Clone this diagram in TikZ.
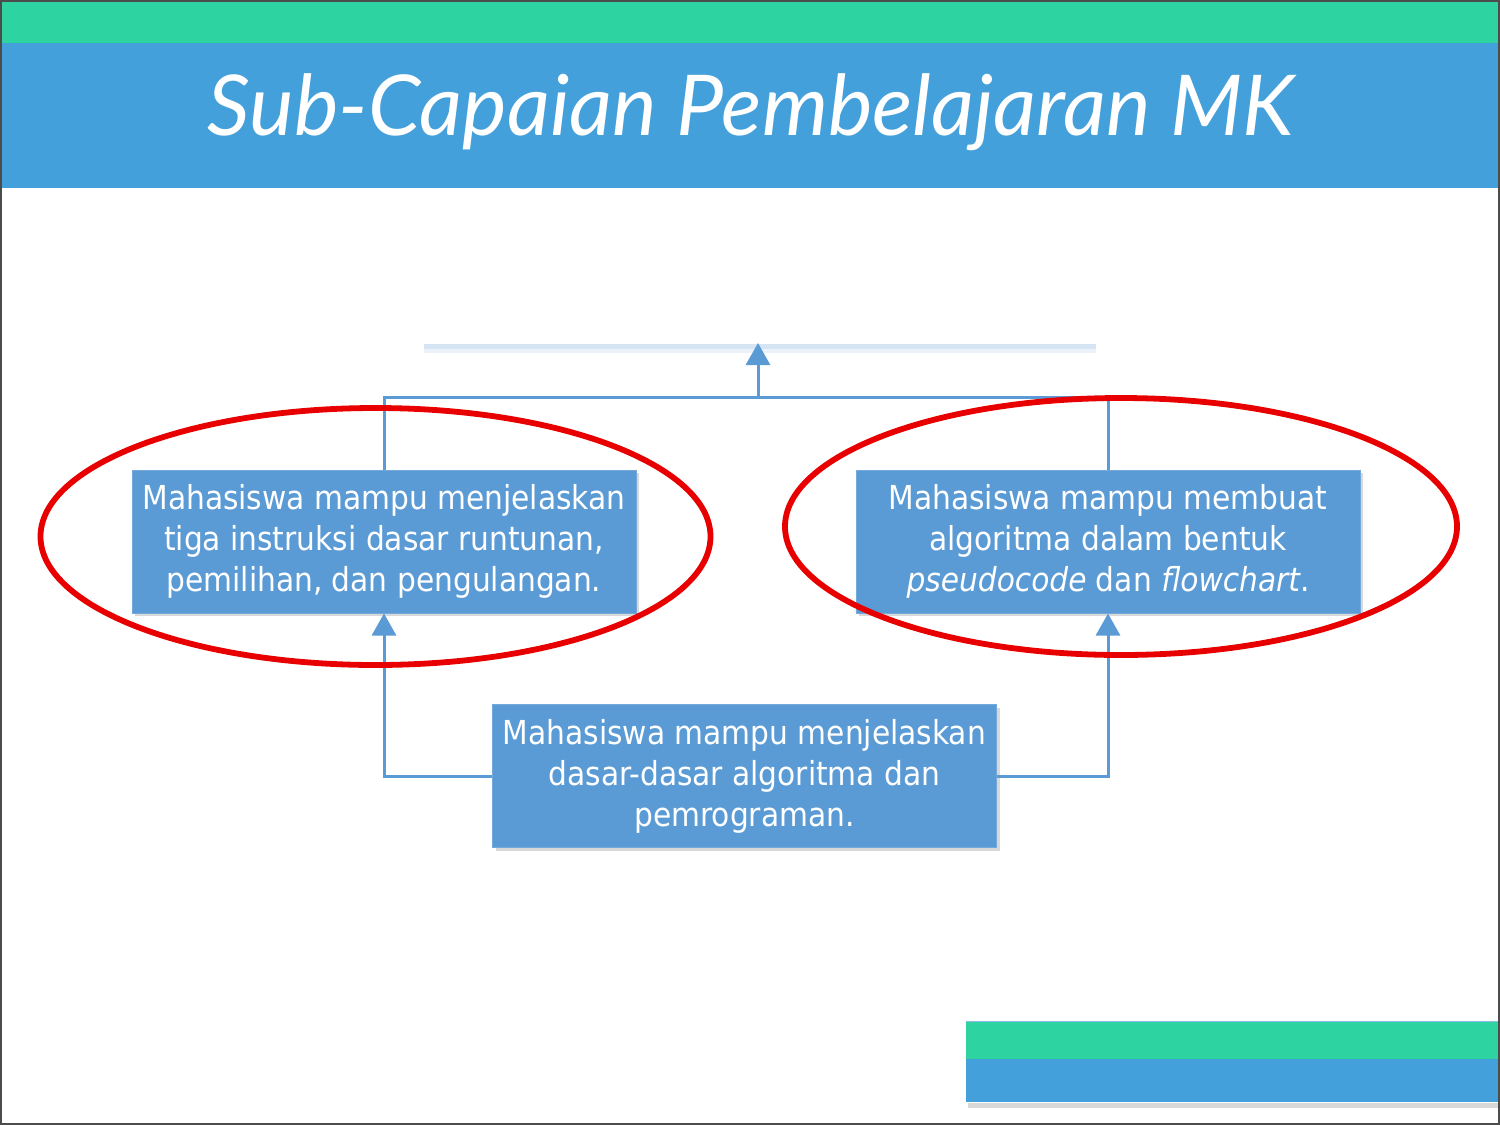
\documentclass[tikz,border=0pt]{standalone}
\usepackage{fontspec}
\usetikzlibrary{shadows,arrows.meta}
\newfontfamily\titlefont{Lato}
\newfontfamily\boxfont{DejaVu Sans Condensed}
\definecolor{slidegreen}{RGB}{45,211,160}
\definecolor{slideblue}{RGB}{68,160,219}
\definecolor{boxblue}{RGB}{91,155,213}
\definecolor{ringred}{RGB}{232,0,0}
\definecolor{paleedge}{RGB}{214,229,244}
\begin{document}
\begin{tikzpicture}[x=0.5pt,y=-0.5pt,
  goalbox/.style={fill=boxblue, draw=boxblue!85!white, line width=0.5pt,
    minimum width=252pt, minimum height=71.5pt, inner sep=0pt, align=center,
    text=white, font=\boxfont\fontsize{16.5}{20.5}\selectfont,
    drop shadow={shadow xshift=1.5pt, shadow yshift=-1.5pt, opacity=0.3}},
  link/.style={draw=boxblue, line width=1.5pt},
  tip/.style={-{Triangle[length=11pt,width=12pt]}},
  ring/.style={draw=ringred, line width=2.9pt}]
\useasboundingbox (0,0) rectangle (1500,1125);
\fill[white] (0,0) rectangle (1500,1125);

% header bands and title
\fill[slidegreen] (0,0) rectangle (1500,43);
\fill[slideblue] (0,43) rectangle (1500,188);
\node[anchor=base, text=white, font=\titlefont\itshape\fontsize{42}{46}\selectfont]
  (title) at (751,135) {Sub-Capaian Pembelajaran MK};

% lower edge of the goal box above
\draw[paleedge, line width=2.5pt] (424,346) -- (1096,346);
\draw[paleedge!50!white, line width=2pt] (424,351) -- (1096,351);

% goal boxes
\node[goalbox] (left) at (384,541.5)
  {Mahasiswa mampu menjelaskan\\tiga instruksi dasar runtunan,\\pemilihan, dan pengulangan.};
\node[goalbox] (right) at (1108,541.5)
  {Mahasiswa mampu membuat\\algoritma dalam bentuk\\\textit{pseudocode} dan \textit{flowchart}.};
\node[goalbox] (base) at (744.5,776)
  {Mahasiswa mampu menjelaskan\\dasar-dasar algoritma dan\\pemrograman.};

% connectors
\coordinate (top) at (758,343);
\coordinate (join) at (758,397);
\draw[link] (left.north) |- (right.north |- join) -- (right.north);
\draw[link, tip] (join) -- (top);
\draw[link, tip] (base.west) -| (left.south);
\draw[link, tip] (base.east) -| (right.south);

% red highlight rings
\draw[ring] (375.5,536.5) ellipse [x radius=335, y radius=128.5];
\draw[ring] (1121,526.5) ellipse [x radius=336, y radius=128.5];

% footer bands
\fill[black!25, opacity=0.6] (968,1103) rectangle (1500,1108);
\fill[slidegreen] (966,1021) rectangle (1500,1059);
\fill[slideblue] (966,1059) rectangle (1500,1102);
\draw[boxblue!70!white, line width=0.5pt] (966,1021) -- (1500,1021);

% page frame
\draw[black!70, line width=1pt] (1,1) rectangle (1499,1124);
\end{tikzpicture}
\end{document}
